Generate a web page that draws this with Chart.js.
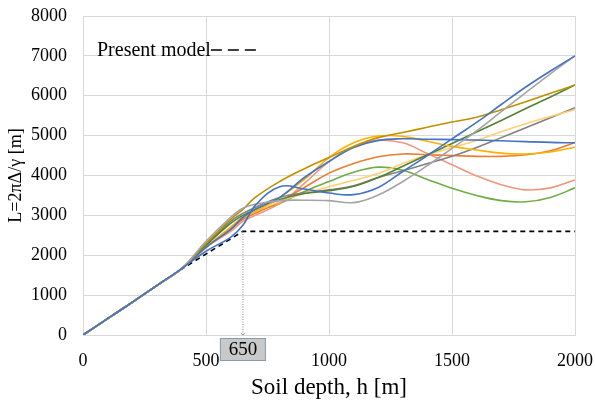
<!DOCTYPE html>
<html>
<head>
<meta charset="utf-8">
<script src="https://cdn.jsdelivr.net/npm/chart.js@4"></script>
<style>
  html, body { margin: 0; padding: 0; background: #fff; }
  #wrap { width: 595px; height: 403px; }
</style>
</head>
<body>
<div id="wrap"><canvas id="c" width="595" height="403"></canvas></div>
<script>
// ---- data ----
const depths = [0,100,200,300,400,500,600,650,700,800,900,1000,1100,1200,1300,1400,1500,1600,1700,1800,1900,2000];

const blueA      = [0,410,820,1240,1660,2100,2450,2750,3250,3720,3660,3560,3520,3700,4100,4500,4920,5330,5780,6220,6620,7000];
const grayLight  = [0,410,820,1240,1660,2350,2950,3180,3280,3370,3380,3370,3320,3510,3850,4250,4680,5120,5600,6080,6550,7000];
const goldDark   = [0,410,820,1240,1660,2300,2900,3150,3450,3850,4170,4450,4730,4950,5080,5210,5340,5460,5650,5850,6060,6270];
const yellow     = [0,410,820,1240,1660,2200,2700,2950,3100,3450,3900,4450,4820,4990,4980,4860,4730,4640,4560,4540,4590,4710];
const blueB      = [0,410,820,1240,1660,2200,2650,2950,3150,3450,3950,4350,4700,4880,4920,4910,4900,4890,4870,4850,4830,4820];
const salmon     = [0,410,820,1240,1660,2200,2600,2850,3000,3300,3800,4350,4720,4880,4820,4550,4270,3990,3770,3640,3690,3890];
const orange     = [0,410,820,1240,1660,2200,2650,2900,3050,3350,3700,4060,4300,4470,4540,4520,4500,4480,4480,4520,4620,4830];
const green      = [0,410,820,1240,1660,2200,2700,2950,3100,3300,3600,3850,4080,4210,4130,3900,3680,3500,3370,3340,3450,3690];
const darkGreen  = [0,410,820,1240,1660,2250,2800,3000,3150,3400,3550,3620,3730,3950,4230,4520,4800,5090,5380,5680,5970,6270];
const darkGray   = [0,410,820,1240,1660,2250,2850,3050,3200,3450,3570,3640,3740,3950,4120,4300,4480,4700,4950,5200,5450,5700];
const lightYellow= [0,410,820,1240,1660,2200,2700,2950,3100,3350,3550,3720,3880,4050,4300,4520,4700,4880,5100,5300,5480,5650];

const presentX = [0,400,650,2000];
const presentY = [0,1650,2600,2600];
const markerX = [650,650];
const markerY = [0,2600];
const markLabel = "650";

const xTicks = [0,500,1000,1500,2000];
const yTicks = [0,1000,2000,3000,4000,5000,6000,7000,8000];

const seriesList = [
  [blueA, '#4472C4'],
  [grayLight, '#A5A5A5'],
  [goldDark, '#BF9000'],
  [blueB, '#4472C4'],
  [yellow, '#FFB000'],
  [darkGreen, '#548235'],
  [lightYellow, '#FFCF70'],
  [darkGray, '#808080'],
  [orange, '#ED7D31'],
  [salmon, '#F1977A'],
  [green, '#70AD47']
];

const pts = (xs, ys) => xs.map((x, i) => ({x, y: ys[i]}));

const datasets = seriesList.map(([vals, col]) => ({
  data: pts(depths, vals),
  borderColor: col,
  borderWidth: 1.6,
  pointRadius: 0,
  tension: 0.4,
  fill: false
}));

datasets.push({
  data: pts(markerX, markerY),
  borderColor: '#8c8c8c',
  borderWidth: 1,
  borderDash: [1, 1.5],
  pointRadius: [3, 0],
  pointStyle: 'crossRot',
  pointBorderColor: '#8c8c8c',
  tension: 0
});
datasets.push({
  data: pts(presentX, presentY),
  borderColor: '#000',
  borderWidth: 1.6,
  borderDash: [5, 4],
  pointRadius: 0,
  tension: 0
});

const serif = "'Liberation Serif', 'DejaVu Serif', serif";

const annot = {
  id: 'annot',
  afterDraw(chart) {
    const ctx = chart.ctx;
    const xs = chart.scales.x;
    const ca = chart.chartArea;
    ctx.save();
    ctx.font = "20px " + serif;
    ctx.fillStyle = '#000';
    ctx.textBaseline = 'middle';
    ctx.textAlign = 'left';
    const tx = 97, ty = 51;
    ctx.fillText('Present model', tx, ty);
    const w = ctx.measureText('Present model').width;
    ctx.strokeStyle = '#000';
    ctx.lineWidth = 1.6;
    ctx.setLineDash([11, 6]);
    ctx.beginPath();
    ctx.moveTo(tx + w, ty - 1);
    ctx.lineTo(tx + w + 45, ty - 1);
    ctx.stroke();
    ctx.setLineDash([]);
    const cx = xs.getPixelForValue(markerX[0]);
    const bw = 46, bh = 23, by = ca.bottom + 3;
    ctx.fillStyle = '#c9c9c9';
    ctx.fillRect(cx - bw / 2, by, bw, bh);
    ctx.strokeStyle = '#8a9bb0';
    ctx.lineWidth = 1;
    ctx.strokeRect(cx - bw / 2 + 0.5, by + 0.5, bw - 1, bh - 1);
    ctx.fillStyle = '#000';
    ctx.font = "19px " + serif;
    ctx.textAlign = 'center';
    ctx.fillText(markLabel, cx, by + bh / 2 + 1);
    ctx.restore();
  }
};

new Chart(document.getElementById('c'), {
  type: 'line',
  data: { datasets },
  plugins: [annot],
  options: {
    responsive: false,
    animation: false,
    layout: { padding: { left: 5, right: 20, top: 16, bottom: 0 } },
    plugins: { legend: { display: false }, tooltip: { enabled: false } },
    scales: {
      x: {
        type: 'linear',
        min: 0, max: 2000,
        afterBuildTicks: (s) => { s.ticks = xTicks.map(v => ({value: v})); },
        afterFit: (s) => { s.height = 68; },
        grid: { color: '#d9d9d9', lineWidth: 1, drawTicks: true, tickLength: 15, tickColor: 'rgba(0,0,0,0)' },
        border: { color: '#d9d9d9' },
        ticks: { font: { family: serif, size: 18 }, color: '#000', padding: 0, maxRotation: 0, callback: (v) => String(v) },
        title: { display: true, text: 'Soil depth, h [m]', font: { family: serif, size: 23 }, color: '#000', padding: { top: 0, bottom: 1 } }
      },
      y: {
        min: 0, max: 8000,
        afterBuildTicks: (s) => { s.ticks = yTicks.map(v => ({value: v})); },
        afterFit: (s) => { s.width = 78; },
        grid: { color: '#d9d9d9', lineWidth: 1, drawTicks: true, tickLength: 15, tickColor: 'rgba(0,0,0,0)' },
        border: { color: '#d9d9d9' },
        ticks: { font: { family: serif, size: 18 }, color: '#000', padding: 1, callback: (v) => String(v) },
        title: { display: true, text: 'L=2πΔ/γ [m]', font: { family: serif, size: 18 }, color: '#000', padding: { top: 0, bottom: 0 } }
      }
    }
  }
});
</script>
</body>
</html>
